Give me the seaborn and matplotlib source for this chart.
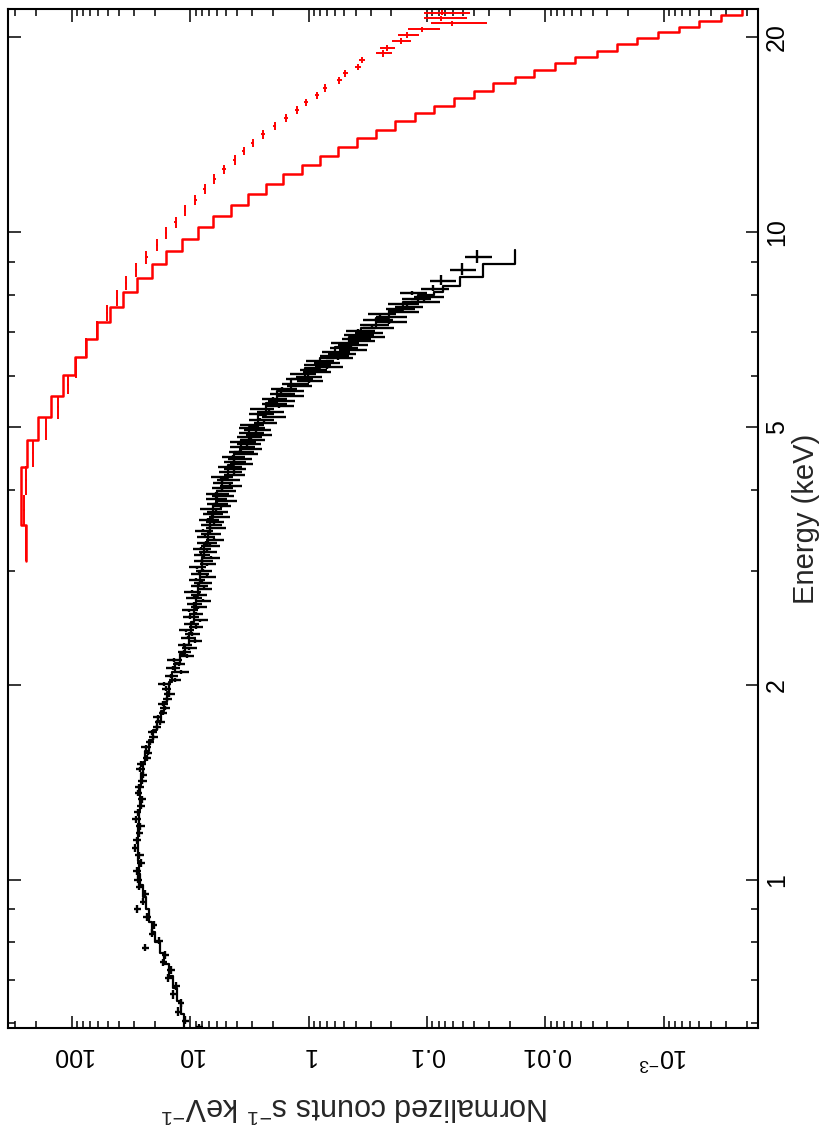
import numpy as np
import matplotlib
matplotlib.use("Agg")
import matplotlib.pyplot as plt
import matplotlib.ticker as mticker
import seaborn as sns

# ---- black spectrum: folded model (stepped) ----
black_model_edges = [0.59, 0.62, 0.65, 0.68, 0.71, 0.74, 0.77, 0.80, 0.83, 0.86,
                     0.90, 0.94, 0.98, 1.02, 1.07, 1.12, 1.17, 1.22, 1.28, 1.34,
                     1.40, 1.46, 1.52, 1.58, 1.64, 1.70, 1.76, 1.82, 1.88, 1.95,
                     2.02, 2.09, 2.16, 2.23, 2.30, 2.40, 2.50, 2.62, 2.74, 2.87,
                     3.00, 3.15, 3.30, 3.46, 3.62, 3.80, 3.98, 4.17, 4.37, 4.57,
                     4.78, 5.00, 5.22, 5.45, 5.68, 5.92, 6.16, 6.40, 6.64, 6.88,
                     7.12, 7.36, 7.58, 7.80, 7.98, 8.08, 8.26, 8.51, 8.93, 9.38]
black_model_counts = [11.4, 12.1, 12.9, 13.9, 15.2, 16.6, 18.2, 19.8, 21.0, 22.3,
                      23.7, 25.1, 26.4, 27.2, 27.7, 27.9, 27.6, 27.1, 26.7, 26.4,
                      26.0, 25.3, 24.0, 22.3, 20.5, 19.0, 17.6, 16.6, 15.8, 15.1,
                      14.3, 13.4, 12.2, 11.0, 10.2, 9.8, 9.4, 9.0, 8.6, 8.25,
                      7.95, 7.6, 7.1, 6.8, 6.4, 6.0, 5.45, 4.85, 4.25, 3.7,
                      3.2, 2.7, 2.3, 1.85, 1.42, 1.07, 0.80, 0.60, 0.46, 0.36,
                      0.27, 0.21, 0.16, 0.12, 0.088, 0.073, 0.053, 0.034, 0.018]

# ---- black spectrum: data points ----
black_energy = [0.592, 0.605, 0.625, 0.645, 0.665, 0.685, 0.705, 0.725, 0.745, 0.765,
                0.785, 0.805, 0.825, 0.850, 0.875, 0.900, 0.925, 0.950, 0.975,
                1.00, 1.03, 1.06, 1.09, 1.12, 1.15, 1.18, 1.21, 1.24, 1.27,
                1.30, 1.33, 1.36, 1.39, 1.42, 1.45, 1.48, 1.51, 1.54, 1.57,
                1.60, 1.63, 1.66, 1.69, 1.72, 1.75, 1.78, 1.81, 1.84, 1.87,
                1.90, 1.935, 1.97,
                2.005, 2.035, 2.065, 2.095, 2.125, 2.155, 2.185, 2.215, 2.245, 2.275,
                2.305, 2.335, 2.365, 2.395, 2.425, 2.455, 2.485, 2.515, 2.545, 2.575,
                2.605, 2.635, 2.665, 2.695, 2.725, 2.755, 2.785, 2.815, 2.845, 2.875,
                2.905, 2.935, 2.965,
                3.00, 3.035, 3.07, 3.105, 3.14, 3.175, 3.21, 3.245, 3.28, 3.315,
                3.35, 3.385, 3.42, 3.455, 3.49, 3.525, 3.56, 3.595, 3.63, 3.665,
                3.70, 3.735, 3.77, 3.805, 3.84, 3.875, 3.91, 3.945, 3.98,
                4.02, 4.06, 4.10, 4.14, 4.18, 4.22, 4.26, 4.30, 4.34, 4.38,
                4.42, 4.46, 4.50, 4.54, 4.58, 4.62, 4.66, 4.70, 4.74, 4.78,
                4.82, 4.86, 4.90, 4.94, 4.98,
                5.03, 5.08, 5.13, 5.18, 5.23, 5.28, 5.33, 5.38, 5.43, 5.48,
                5.53, 5.58, 5.63, 5.68, 5.73, 5.78, 5.83, 5.88, 5.93, 5.98,
                6.03, 6.08, 6.13, 6.18, 6.23, 6.28, 6.33, 6.38, 6.43, 6.48,
                6.53, 6.58, 6.63, 6.68, 6.73, 6.78, 6.83, 6.88, 6.93, 6.98,
                7.04, 7.11, 7.18, 7.25, 7.32, 7.39, 7.46, 7.53, 7.60, 7.67,
                7.74, 7.81, 7.88, 7.95, 8.05, 8.17, 8.41, 8.74, 9.16]
black_counts = [8.4, 11.0, 12.6, 12.1, 13.9, 13.2, 15.3, 14.6, 16.9, 16.3,
                24.0, 18.4, 20.9, 20.2, 23.3, 28.0, 25.0, 24.0, 26.9,
                27.6, 28.3, 26.2, 26.9, 29.3, 28.4, 27.1, 26.5, 28.6, 27.8,
                26.2, 25.8, 27.5, 27.0, 25.4, 24.9, 26.4, 25.9, 23.4, 22.9,
                23.8, 22.0, 20.6, 21.1, 19.2, 18.1, 18.9, 17.0, 16.4, 17.1,
                15.6, 15.1, 15.9,
                16.6, 13.6, 14.5, 12.0, 14.1, 12.5, 13.8, 10.6, 11.3, 10.3,
                11.2, 9.1, 10.5, 9.7, 10.9, 9.0, 9.9, 8.3, 10.0, 9.0,
                10.2, 8.55, 9.3, 7.8, 9.4, 8.5, 9.7, 7.7, 8.5, 7.9,
                8.9, 7.25, 8.4,
                7.75, 8.8, 7.2, 7.9, 6.7, 8.05, 7.2, 8.1, 6.85, 7.4,
                6.25, 7.5, 6.8, 7.8, 6.2, 6.8, 6.3, 7.1, 5.75, 6.6,
                6.05, 6.8, 5.55, 6.05, 5.1, 6.1, 5.4, 6.1, 5.1,
                5.45, 4.6, 5.4, 4.85, 5.5, 4.3, 4.65, 4.3, 4.75, 3.8,
                4.3, 3.9, 4.4, 3.55, 3.8, 3.2, 3.75, 3.3, 3.7, 3.05,
                3.25, 2.7, 3.15, 2.8, 3.1,
                3.08, 2.39, 2.6, 2.0, 2.56, 2.17, 2.54, 1.79, 1.99, 1.75,
                2.0, 1.45, 1.72, 1.48, 1.68, 1.23, 1.34, 1.0, 1.24, 1.02,
                1.16, 0.88, 0.94, 0.70, 0.87, 0.72, 0.83, 0.57, 0.63, 0.54,
                0.61, 0.44, 0.52, 0.44, 0.51, 0.37, 0.41, 0.31, 0.39, 0.32,
                0.38, 0.27, 0.29, 0.21, 0.27, 0.21, 0.25, 0.165, 0.175, 0.147,
                0.165, 0.107, 0.127, 0.10, 0.135, 0.089, 0.076, 0.051, 0.038]
black_rel_err = [0.07, 0.06, 0.07, 0.06, 0.07, 0.07, 0.06, 0.07, 0.06, 0.07,
                 0.06, 0.07, 0.07, 0.06, 0.07, 0.06, 0.07, 0.06, 0.07,
                 0.08, 0.07, 0.08, 0.08, 0.07, 0.08, 0.07, 0.08, 0.08, 0.07,
                 0.08, 0.08, 0.07, 0.08, 0.08, 0.07, 0.08, 0.09, 0.08, 0.08,
                 0.09, 0.08, 0.09, 0.09, 0.08, 0.09, 0.09, 0.08, 0.09, 0.09,
                 0.09, 0.10, 0.09,
                 0.13, 0.12, 0.13, 0.14, 0.13, 0.12, 0.14, 0.13, 0.13, 0.14,
                 0.14, 0.13, 0.14, 0.15, 0.14, 0.13, 0.15, 0.14, 0.15, 0.14,
                 0.15, 0.16, 0.15, 0.14, 0.16, 0.15, 0.16, 0.15, 0.16, 0.17,
                 0.15, 0.16, 0.17,
                 0.16, 0.17, 0.16, 0.18, 0.17, 0.16, 0.18, 0.17, 0.18, 0.19,
                 0.17, 0.18, 0.19, 0.18, 0.19, 0.20, 0.18, 0.19, 0.20, 0.19,
                 0.20, 0.21, 0.19, 0.20, 0.21, 0.20, 0.21, 0.22, 0.20,
                 0.20, 0.21, 0.20, 0.22, 0.21, 0.20, 0.22, 0.21, 0.23, 0.22,
                 0.21, 0.23, 0.22, 0.24, 0.23, 0.22, 0.24, 0.23, 0.25, 0.24,
                 0.23, 0.25, 0.24, 0.26, 0.25,
                 0.23, 0.22, 0.24, 0.23, 0.24, 0.25, 0.23, 0.25, 0.24, 0.25,
                 0.24, 0.25, 0.24, 0.26, 0.25, 0.24, 0.26, 0.25, 0.26, 0.25,
                 0.25, 0.26, 0.25, 0.27, 0.26, 0.25, 0.27, 0.26, 0.27, 0.26,
                 0.26, 0.27, 0.26, 0.28, 0.27, 0.26, 0.28, 0.27, 0.28, 0.27,
                 0.28, 0.29, 0.27, 0.29, 0.28, 0.29, 0.27, 0.29, 0.28, 0.27,
                 0.29, 0.28, 0.27, 0.28, 0.26, 0.26, 0.25, 0.25, 0.25]

# ---- red spectrum: folded model (stepped) ----
red_model_edges = [3.10, 3.53, 3.93, 4.34, 4.78, 5.18, 5.59, 6.02, 6.42, 6.84,
                   7.26, 7.67, 8.09, 8.50, 8.94, 9.36, 9.76, 10.19, 10.59, 11.01,
                   11.44, 11.86, 12.29, 12.70, 13.12, 13.54, 13.98, 14.38, 14.82, 15.25,
                   15.65, 16.08, 16.53, 16.96, 17.37, 17.78, 18.21, 18.64, 19.05, 19.50,
                   19.90, 20.33, 20.74, 21.19, 21.63, 22.09]
red_model_counts = [246, 272, 270, 242, 193, 150, 118, 95, 76, 62,
                    48, 37, 28.4, 21.2, 16.0, 11.8, 8.65, 6.4, 4.55, 3.24,
                    2.31, 1.64, 1.14, 0.80, 0.56, 0.39, 0.27, 0.186, 0.126, 0.087,
                    0.059, 0.040, 0.0275, 0.018, 0.0124, 0.0083, 0.0056, 0.0037, 0.0025, 0.0017,
                    0.00112, 7.5e-4, 5.0e-4, 3.3e-4, 2.2e-4]

# ---- red spectrum: data points ----
red_energy = [3.31, 3.72, 4.14, 4.56, 4.97, 5.37, 5.81, 6.19, 6.65, 7.06,
              7.50, 7.91, 8.34, 8.74, 9.15, 9.55, 9.97, 10.36, 10.78, 11.20,
              11.65, 12.07, 12.50, 12.92, 13.35, 13.74, 14.15, 14.59, 15.01, 15.43,
              15.86, 16.27, 16.70, 17.16, 17.58, 17.99, 18.43, 18.87, 19.26, 19.71,
              20.16, 20.55, 21.00, 21.37, 21.80]
red_energy_hw = [0.21, 0.20, 0.21, 0.22, 0.20, 0.22, 0.19, 0.23, 0.21, 0.22,
                 0.21, 0.22, 0.20, 0.21, 0.21, 0.20, 0.21, 0.20, 0.21, 0.21,
                 0.22, 0.21, 0.21, 0.21, 0.20, 0.20, 0.21, 0.21, 0.21, 0.21,
                 0.21, 0.20, 0.22, 0.21, 0.20, 0.21, 0.22, 0.21, 0.20, 0.21,
                 0.20, 0.20, 0.20, 0.20, 0.20]
red_counts = [246, 255, 245, 215, 167, 131, 108, 92.5, 76, 62,
              51, 42, 35, 28.6, 23.5, 19.2, 16.0, 13.3, 11.1, 9.1,
              7.55, 6.3, 5.2, 4.2, 3.54, 2.97, 2.43, 1.94, 1.56, 1.25,
              1.06, 0.855, 0.727, 0.553, 0.492, 0.384, 0.356, 0.234, 0.219, 0.166,
              0.147, 0.111, 0.062, 0.076, 0.075]
red_rel_err = [0.015, 0.015, 0.015, 0.015, 0.015, 0.015, 0.015, 0.015, 0.015, 0.018,
               0.018, 0.018, 0.020, 0.020, 0.022, 0.022, 0.024, 0.024, 0.026, 0.026,
               0.028, 0.028, 0.030, 0.030, 0.032, 0.032, 0.034, 0.035, 0.036, 0.038,
               0.040, 0.042, 0.045, 0.050, 0.050, 0.055, 0.060, 0.15, 0.15, 0.18,
               0.20, 0.30, 0.50, 0.40, 0.42]

# ---- axes ticks ----
energy_ticks = [1, 2, 5, 10, 20]
energy_labels = ["1", "2", "5", "10", "20"]
energy_minor = [0.6, 0.7, 0.8, 0.9, 3, 4, 6, 7, 8, 9]
count_ticks = [100, 10, 1, 0.1, 0.01, 0.001]
count_labels = ["100", "10", "1", "0.1", "0.01", r"10$^{\mathregular{-3}}$"]


def stairs_xy(edges, vals):
    # rotated histogram: energy on the vertical axis, counts horizontal
    e = np.asarray(edges, dtype=float)
    v = np.asarray(vals, dtype=float)
    ys = np.column_stack([e[:-1], e[1:]]).ravel()
    xs = np.repeat(v, 2)
    return xs, ys


def bin_halfwidths(energy):
    e = np.asarray(energy, dtype=float)
    mids = (e[1:] + e[:-1]) / 2
    lo = np.concatenate([[mids[0] - e[0]], e[1:] - mids])
    hi = np.concatenate([mids - e[:-1], [e[-1] - mids[-1]]])
    return lo, hi


sns.set_style("ticks")
plt.rcParams["font.family"] = ["Liberation Sans", "DejaVu Sans"]
plt.rcParams["mathtext.default"] = "regular"

fig = plt.figure(figsize=(8.3, 11.25), dpi=100)
ax = fig.add_axes([8 / 830, 97 / 1125, 750 / 830, 1019 / 1125])
ax.set_xscale("log")
ax.set_yscale("log")

# black data crosses (symmetric errors in counts)
bc = np.asarray(black_counts)
berr = bc * np.asarray(black_rel_err)
blo, bhi = bin_halfwidths(black_energy)
ax.errorbar(bc, black_energy, xerr=berr, yerr=[blo, bhi],
            fmt="none", ecolor="black", elinewidth=1.7, capsize=0)

# red data crosses
rc = np.asarray(red_counts)
rerr = rc * np.asarray(red_rel_err)
ax.errorbar(rc, red_energy, xerr=rerr, yerr=red_energy_hw,
            fmt="none", ecolor="red", elinewidth=1.4, capsize=0)

# stepped models
mx, my = stairs_xy(black_model_edges, black_model_counts)
sns.lineplot(x=mx, y=my, sort=False, estimator=None, color="black", lw=1.6, ax=ax)
mx, my = stairs_xy(red_model_edges, red_model_counts)
sns.lineplot(x=mx, y=my, sort=False, estimator=None, color="red", lw=1.8, ax=ax)

ax.set_xlim(347, 1.6e-4)
ax.set_ylim(0.59, 22.1)

ax.yaxis.set_major_locator(mticker.FixedLocator(energy_ticks))
ax.yaxis.set_major_formatter(mticker.FixedFormatter(energy_labels))
ax.yaxis.set_minor_locator(mticker.FixedLocator(energy_minor))
ax.yaxis.set_minor_formatter(mticker.NullFormatter())
ax.xaxis.set_major_locator(mticker.FixedLocator(count_ticks))
ax.xaxis.set_major_formatter(mticker.FixedFormatter(count_labels))
ax.xaxis.set_minor_locator(mticker.LogLocator(base=10, subs=np.arange(2, 10), numticks=30))
ax.xaxis.set_minor_formatter(mticker.NullFormatter())

ax.tick_params(axis="both", which="both", direction="in", width=1.1, colors="black",
               top=True, bottom=True, left=True, right=True)
ax.tick_params(axis="both", which="major", length=9)
ax.tick_params(axis="both", which="minor", length=4.8)
ax.tick_params(axis="y", labelleft=False, labelright=True, labelrotation=90,
               labelsize=18, pad=5)
ax.tick_params(axis="x", labelbottom=True, labelrotation=180, labelsize=18, pad=11)
for lab in ax.get_yticklabels():
    lab.set_verticalalignment("center")

for sp in ax.spines.values():
    sp.set_linewidth(1.5)
    sp.set_color("black")

ax.set_xlabel("")
ax.set_ylabel("")
ax.text(1.064, 0.5, "Energy (keV)", transform=ax.transAxes, rotation=90,
        ha="center", va="center", fontsize=21)
ax.text(0.463, -0.0765, r"Normalized counts s$^{-1}$ keV$^{-1}$", transform=ax.transAxes,
        rotation=180, ha="center", va="center", fontsize=22)

fig.savefig("out.png", dpi=100)
